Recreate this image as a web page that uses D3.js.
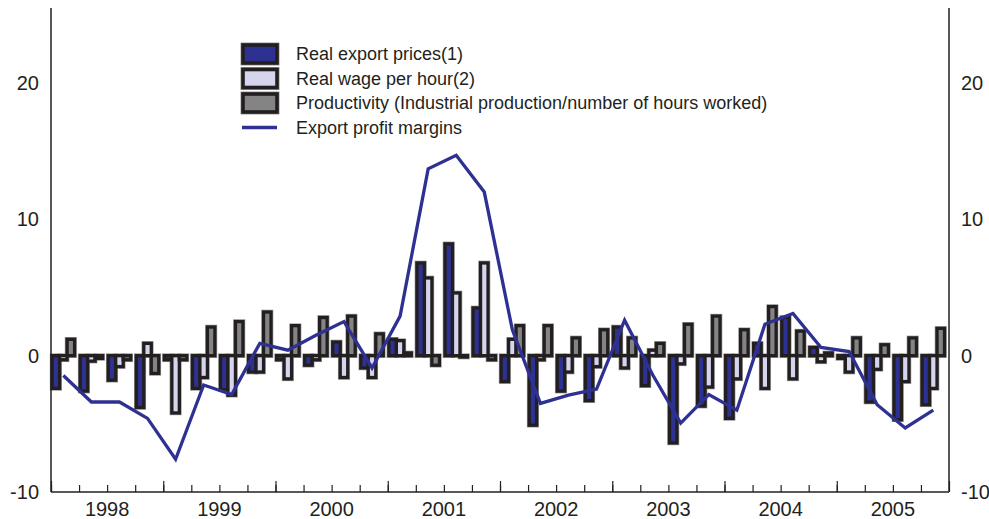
<!DOCTYPE html>
<html>
<head>
<meta charset="utf-8">
<script src="https://cdn.jsdelivr.net/npm/d3@7"></script>
<style>
    body { margin: 0; background: #fff; }
    svg text { font-family: "Liberation Sans", Arial, sans-serif; fill: #231f20; }
</style>
</head>
<body>
<svg id="chart" width="989" height="519"></svg>
<script>
// quarterly data, 1998Q1 .. 2005Q4
const years = [1998, 1999, 2000, 2001, 2002, 2003, 2004, 2005];
const quarters = d3.range(32);

const exportPrices = [-2.4, -2.6, -1.8, -3.8, -0.3, -2.4, -2.5, -1.2, -0.3, -0.7, 1.0, -0.9,
    1.2, 6.8, 8.2, 3.5, -1.9, -5.1, -2.6, -3.3, 2.1, -2.2, -6.4, -3.7,
    -4.6, 0.9, 2.8, 0.6, -0.2, -3.4, -4.7, -3.6];
const realWage = [-0.3, -0.4, -0.8, 0.9, -4.2, -1.6, -2.9, -1.2, -1.7, -0.3, -1.6, -1.6,
    1.1, 5.7, 4.6, 6.8, 1.2, -0.3, -1.2, -0.8, -0.9, 0.4, -0.6, -2.3,
    -1.7, -2.4, -1.7, -0.45, -1.2, -1.0, -1.9, -2.4];
const productivity = [1.2, -0.2, -0.3, -1.3, -0.3, 2.1, 2.5, 3.2, 2.2, 2.8, 2.9, 1.6,
    0.2, -0.7, -0.1, -0.3, 2.2, 2.2, 1.3, 1.9, 1.3, 0.9, 2.3, 2.9,
    1.9, 3.6, 1.8, 0.2, 1.3, 0.8, 1.3, 2.0];
const profitMargins = [-1.45, -3.4, -3.4, -4.6, -7.6, -2.15, -2.85, 0.9, 0.4, 1.5, 2.5, -0.9,
    2.9, 13.7, 14.7, 12.0, 1.9, -3.5, -2.9, -2.45, 2.6, -1.4, -4.95, -2.85,
    -4.0, 2.3, 3.1, 0.6, 0.3, -3.6, -5.3, -4.0];

const seriesKeys = ["prices", "wage", "productivity"];
const seriesLabels = ["Real export prices(1)", "Real wage per hour(2)",
    "Productivity (Industrial production/number of hours worked)"];
const lineLabel = "Export profit margins";
const yTicks = [-10, 0, 10, 20];

const colours = { prices: "#2d3192", wage: "#d5d5ee", productivity: "#848484" };
const lineColour = "#2e3192";
const ink = "#231f20";

const svg = d3.select("#chart");

const left = 51, right = 949, bottom = 492;

const y = d3.scaleLinear().domain([-10, 20]).range([bottom, 83]);
const t = d3.scaleLinear().domain([1998, 2006]).range([left, right]);

const x = d3.scaleBand().domain(quarters).range([left, right])
    .paddingInner(0.2).paddingOuter(0.1).align(0.2);
const xs = d3.scaleBand().domain(seriesKeys).range([0, x.bandwidth()]);

const rows = quarters.map(q => ({
    q,
    prices: exportPrices[q],
    wage: realWage[q],
    productivity: productivity[q]
}));
const cells = rows.flatMap(r => seriesKeys.map(k => ({ q: r.q, key: k, value: r[k] })));

// bars: grey halo pass, then black outline pass
const barGroup = svg.append("g").attr("id", "bars");
["halo", "ink"].forEach(pass => {
    barGroup.append("g").selectAll("rect")
        .data(cells)
        .join("rect")
            .attr("x", d => x(d.q) + xs(d.key))
            .attr("y", d => y(Math.max(0, d.value)))
            .attr("width", xs.bandwidth())
            .attr("height", d => Math.abs(y(d.value) - y(0)))
            .attr("fill", d => colours[d.key])
            .attr("stroke", pass === "halo" ? "#999" : ink)
            .attr("stroke-width", pass === "halo" ? 4.6 : 3.3);
});

// profit margins line
const line = d3.line()
    .x((d, i) => x(i) + x.bandwidth() / 2)
    .y(d => y(d));

svg.append("path")
    .datum(profitMargins)
    .attr("d", line)
    .attr("fill", "none")
    .attr("stroke", lineColour)
    .attr("stroke-width", 3.3)
    .attr("stroke-linejoin", "miter");

// frame: side lines
[left, right].forEach(xv => {
    svg.append("line")
        .attr("x1", xv).attr("x2", xv)
        .attr("y1", y(25.5)).attr("y2", bottom)
        .attr("stroke", ink).attr("stroke-width", 1.5);
});

// bottom axis: quarter ticks, year ticks, year labels
const quarterTicks = d3.range(1998, 2006, 0.25);
const styleAxis = g => {
    g.select(".domain").remove();
    g.selectAll(".tick line").attr("stroke", ink).attr("stroke-width", 1.2);
};

svg.append("g")
    .attr("transform", `translate(0,${bottom})`)
    .call(d3.axisBottom(t).tickValues(quarterTicks).tickSize(-7).tickFormat(""))
    .call(styleAxis);

svg.append("g")
    .attr("transform", `translate(0,${bottom})`)
    .call(d3.axisBottom(t).tickValues(d3.range(1998, 2007)).tickSize(-11).tickFormat(""))
    .call(styleAxis);

svg.append("line")
    .attr("x1", left).attr("x2", right)
    .attr("y1", bottom).attr("y2", bottom)
    .attr("stroke", ink).attr("stroke-width", 1.5);

svg.append("g").selectAll("text")
    .data(years)
    .join("text")
        .attr("x", d => t(d + 0.5))
        .attr("y", 516)
        .attr("text-anchor", "middle")
        .attr("font-size", 20)
        .text(d => d);

// y labels on both sides
[["end", 39], ["start", 961]].forEach(([anchor, xv]) => {
    svg.append("g").selectAll("text")
        .data(yTicks)
        .join("text")
            .attr("x", xv)
            .attr("y", d => y(d) + 7)
            .attr("text-anchor", anchor)
            .attr("font-size", 20)
            .text(d => d);
});

// legend
const legend = svg.append("g").attr("transform", "translate(243,0)");
const rowY = [54, 78.5, 103, 127.5];

seriesKeys.forEach((k, i) => {
    ["#999", ink].forEach((s, j) => {
        legend.append("rect")
            .attr("x", 0).attr("y", rowY[i] - 9)
            .attr("width", 34).attr("height", 18)
            .attr("fill", colours[k])
            .attr("stroke", s)
            .attr("stroke-width", j === 0 ? 5 : 3.6);
    });
    legend.append("text")
        .attr("x", 53).attr("y", rowY[i] + 6)
        .attr("font-size", 18)
        .text(seriesLabels[i]);
});

legend.append("line")
    .attr("x1", -1).attr("x2", 34)
    .attr("y1", rowY[3]).attr("y2", rowY[3])
    .attr("stroke", lineColour).attr("stroke-width", 3.3);
legend.append("text")
    .attr("x", 53).attr("y", rowY[3] + 6)
    .attr("font-size", 18)
    .text(lineLabel);
</script>
</body>
</html>
